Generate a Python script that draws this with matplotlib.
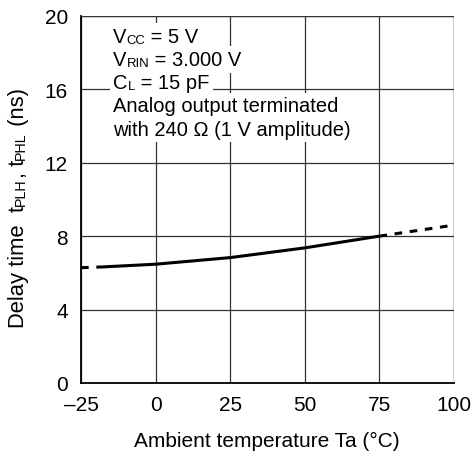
import numpy as np
import matplotlib
matplotlib.use("Agg")
import matplotlib.pyplot as plt
from matplotlib import transforms

plt.rcParams["font.family"] = ["Liberation Sans", "DejaVu Sans"]

# curve (Ta in degC, delay in ns)
ta_solid = [-18, 0, 25, 50, 75]
td_solid = [6.32, 6.47, 6.83, 7.36, 8.0]
ta_low = [-25, -18]
td_low = [6.28, 6.32]
ta_high = [75, 100]
td_high = [8.0, 8.6]

xticks = [-25, 0, 25, 50, 75, 100]
xticklabels = ["\u201325", "0", "25", "50", "75", "100"]
yticks = [0, 4, 8, 12, 16, 20]

# (text, is_subscript) pieces per line
notes = [
    [("V", False), ("CC", True), (" = 5 V", False)],
    [("V", False), ("RIN", True), (" = 3.000 V", False)],
    [("C", False), ("L", True), (" = 15 pF", False)],
    [("Analog output terminated", False)],
    [("with 240 \u03a9 (1 V amplitude)", False)],
]
ylabel_parts = [("Delay time  t", False), ("PLH", True), (", t", False),
                ("PHL", True), (" (ns)", False)]

FS = 14.5
SUB = 0.65

fig = plt.figure(figsize=(4.74, 4.56), dpi=100)
ax = fig.add_axes([0.171, 0.158, 0.787, 0.805])


def _rich_line(x, y, parts, zorder):
    """Pieces on one baseline; white boxes first, text on top."""
    for pas in (0, 1):
        tr = ax.transData
        for s, sub in parts:
            fs = FS * SUB if sub else FS
            t_tr = transforms.offset_copy(tr, x=0, y=-1 if sub else 0, units="dots")
            kw = dict(transform=t_tr, fontsize=fs, va="baseline", ha="left")
            if pas == 0:
                t = ax.text(x, y, s, color="white", zorder=zorder,
                            bbox=dict(facecolor="white", edgecolor="none", pad=2.6), **kw)
            else:
                t = ax.text(x, y, s, color="black", zorder=zorder + 1, **kw)
            ex = t.get_window_extent()
            tr = transforms.offset_copy(tr, x=ex.width, units="dots")


def _rich_vertical(px, py, parts, size):
    """Rotated label built from pieces, positions in figure pixels."""
    off = 0
    for s, sub in parts:
        fs = size * SUB if sub else size
        tr = transforms.offset_copy(transforms.IdentityTransform(),
                                    x=px + (1 if sub else 0), y=py + off, units="dots")
        t = fig.text(0, 0, s, transform=tr, fontsize=fs, rotation=90,
                     rotation_mode="anchor", ha="left", va="baseline")
        off += t.get_window_extent().height


ax.plot(ta_solid, td_solid, color="black", lw=2.2, solid_capstyle="butt", zorder=6)
ax.plot(ta_low, td_low, color="black", lw=2.2, ls=(0, (2.5, 2.5)), zorder=6)
ax.plot(ta_high, td_high, color="black", lw=2.2, ls=(0, (2.5, 2.5)), zorder=6)

ax.set_xlim(-25, 100)
ax.set_ylim(0, 20)
ax.set_xticks(xticks)
ax.set_xticklabels(xticklabels)
ax.set_yticks(yticks)
ax.tick_params(axis="x", length=0, labelsize=15, pad=9)
ax.tick_params(axis="y", length=0, labelsize=15, pad=9.5)
ax.grid(True, color="#333333", lw=0.9)
ax.set_axisbelow(True)
for s in ax.spines.values():
    s.set_linewidth(1.3)
ax.spines["top"].set_visible(False)
ax.spines["right"].set_visible(False)
ax.plot([100, 100], [0, 20], color="#333333", lw=0.9, zorder=0.5)
ax.plot([-25, 100], [20, 20], color="#333333", lw=0.9, zorder=0.5)

fig.text(267 / 474, 9 / 456, "Ambient temperature Ta (\u00b0C)", fontsize=15,
         ha="center", va="baseline")
_rich_vertical(24, 128, ylabel_parts, 15.8)

y0 = 18.59
for i, line in enumerate(notes):
    _rich_line(-14.2, y0 - i * 1.266, line, zorder=4)

fig.savefig("out.png", dpi=100)
